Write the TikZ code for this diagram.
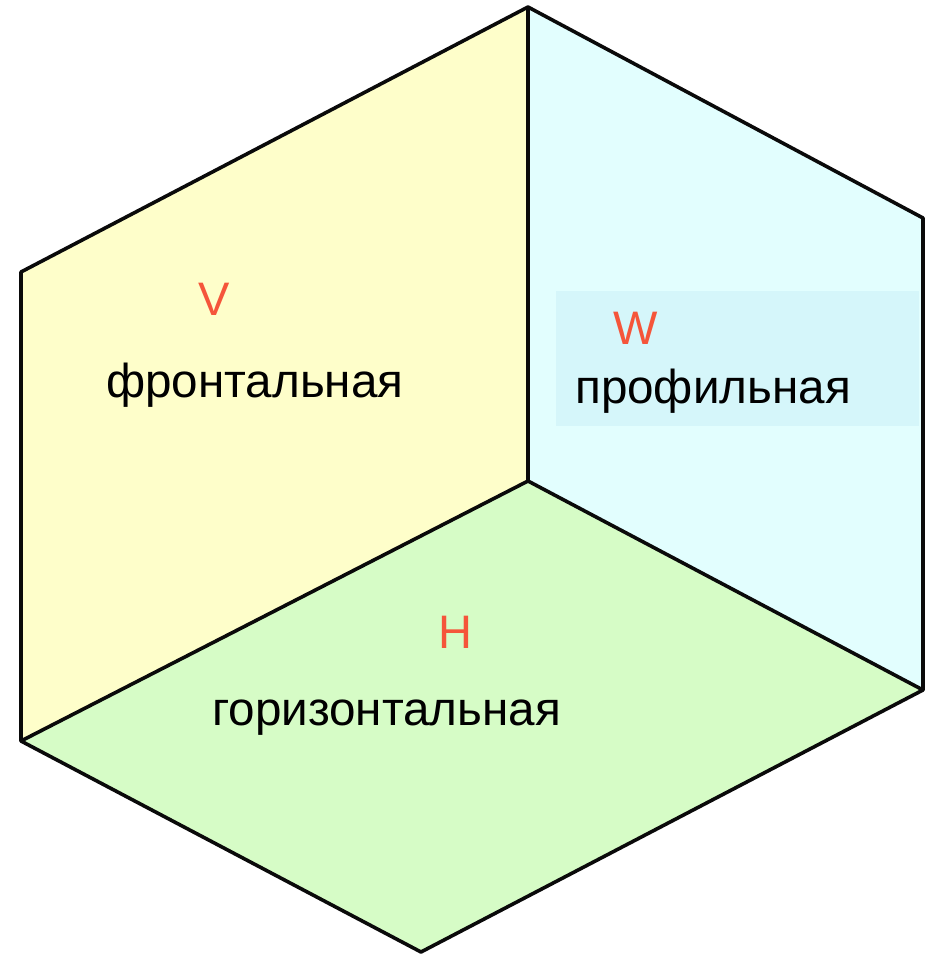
\documentclass[tikz,border=0pt]{standalone}
\usepackage{fontspec}
\setmainfont{Liberation Sans}
\usetikzlibrary{positioning}
\definecolor{ink}{HTML}{0A0A0A}
\definecolor{frontal}{HTML}{FEFECA}
\definecolor{profile}{HTML}{E2FEFE}
\definecolor{profilebox}{HTML}{D5F6FA}
\definecolor{horizontal}{HTML}{D6FCC6}
\definecolor{mark}{HTML}{F5553A}

\begin{document}
\begin{tikzpicture}[x=1pt,y=-1pt,
  edge/.style={draw=ink,line width=3.6pt,line join=round},
  letter/.style={text=mark,font=\fontsize{47}{52}\selectfont,inner sep=0pt},
  plane/.style={font=\fontsize{47.6}{52}\selectfont,inner sep=0pt,anchor=base west}]
\useasboundingbox (0,0) rectangle (934,954);
% corners of the open box
\coordinate (o) at (528,481);
\coordinate (t) at (528,7);
\coordinate (lt) at (21,272);
\coordinate (lb) at (21,741);
\coordinate (b) at (421,952);
\coordinate (rt) at (923,218);
\coordinate (rb) at (923,690);
% faces
\fill[frontal] (o) -- (t) -- (lt) -- (lb) -- cycle;
\fill[profile] (o) -- (t) -- (rt) -- (rb) -- cycle;
\fill[horizontal] (o) -- (lb) -- (b) -- (rb) -- cycle;
\fill[profilebox] (556,291) rectangle (919,426);
% edges
\draw[edge] (t) -- (lt) -- (lb) -- (b) -- (rb) -- (rt) -- cycle;
\draw[edge] (lb) -- (o) -- (rb) (o) -- (t);
% labels
\node[letter] (v) at (214,299) {V};
\node[plane] (front) at (106,397) {фронтальная};
\node[letter] (w) at (636,328) {W};
\node[plane] (side) at (575,403) {профильная};
\node[letter] (h) at (455,632) {H};
\node[plane] (ground) at (212,725) {горизонтальная};
\end{tikzpicture}
\end{document}
